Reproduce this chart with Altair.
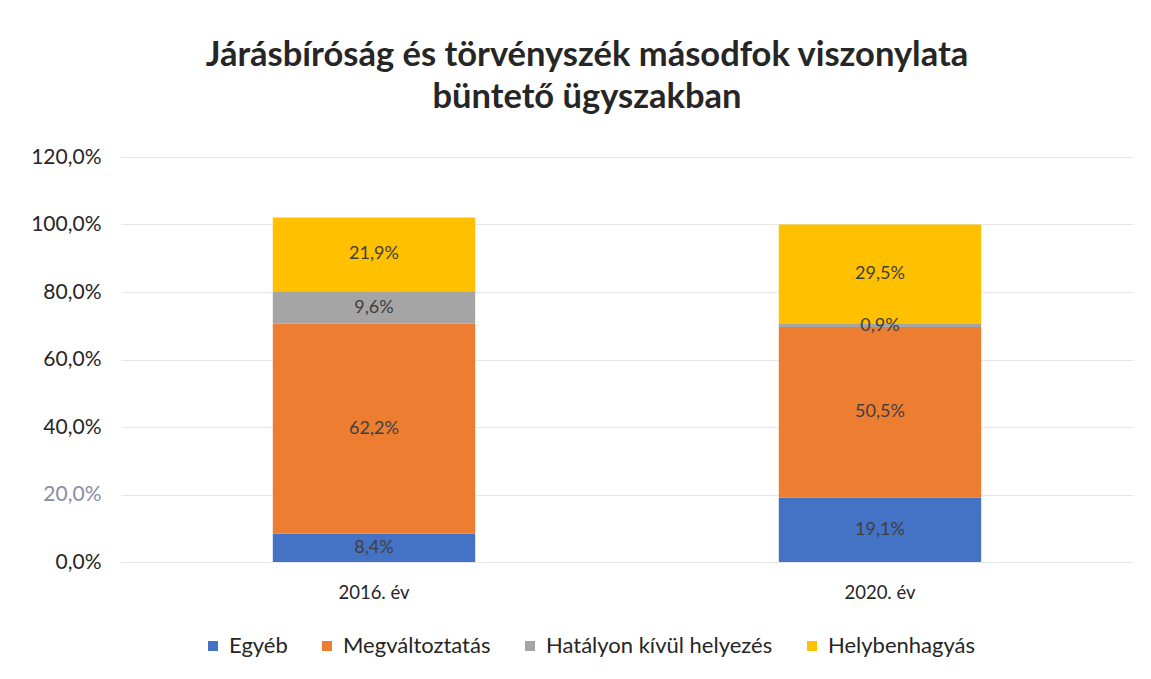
import altair as alt
import pandas as pd

years = ["2016. év", "2016. év", "2016. év", "2016. év",
         "2020. év", "2020. év", "2020. év", "2020. év"]
series = ["Egyéb", "Megváltoztatás", "Hatályon kívül helyezés", "Helybenhagyás"] * 2
values = [8.4, 62.2, 9.6, 21.9,
          19.1, 50.5, 0.9, 29.5]
order = [1, 2, 3, 4] * 2

series_names = ["Egyéb", "Megváltoztatás", "Hatályon kívül helyezés", "Helybenhagyás"]
series_colors = ["#4472C4", "#ED7D31", "#A5A5A5", "#FFC000"]

df = pd.DataFrame({"year": years, "series": series, "value": values, "ord": order})

FONT = "Lato"

base = alt.Chart(df).transform_stack(
    stack="value", groupby=["year"], as_=["y0", "y1"],
    sort=[alt.SortField("ord", order="ascending")]
).transform_calculate(
    mid="(datum.y0 + datum.y1) / 2",
    lbl="replace(format(datum.value, '.1f'), '.', ',') + '%'"
)

x_enc = alt.X("year:N", title=None,
              scale=alt.Scale(paddingInner=0.6, paddingOuter=0.3),
              axis=alt.Axis(labelAngle=0, labelFontSize=18.5, labelColor="#262626",
                            labelFont=FONT, ticks=False, domain=False, grid=False,
                            labelPadding=21))

bars = base.mark_bar().encode(
    x=x_enc,
    y=alt.Y("y0:Q", title=None,
            scale=alt.Scale(domain=[0, 120]),
            axis=alt.Axis(values=[0, 20, 40, 60, 80, 100, 120],
                          labelExpr="replace(format(datum.value, '.1f'), '.', ',') + '%'",
                          labelFontSize=21, labelFont=FONT,
                          labelColor=alt.expr("datum.value == 20 ? '#8c8ca4' : '#262626'"),
                          ticks=False, domain=False, labelPadding=20,
                          gridColor="#e6e6e6", gridWidth=1.2)),
    y2="y1:Q",
    color=alt.Color("series:N",
                    scale=alt.Scale(domain=series_names, range=series_colors),
                    legend=alt.Legend(title=None, orient="none", direction="horizontal",
                                      legendX=81, legendY=478,
                                      symbolType="square", symbolSize=100,
                                      symbolStrokeWidth=0, labelOffset=5,
                                      labelFontSize=22, labelFont=FONT,
                                      labelColor="#262626", columnPadding=28,
                                      labelLimit=400)),
    order=alt.Order("ord:Q")
)

labels = base.mark_text(fontSize=18, font=FONT, color="#404040").encode(
    x=alt.X("year:N"),
    y=alt.Y("mid:Q"),
    text="lbl:N"
)

chart = alt.layer(bars, labels).properties(
    width=1012, height=405,
    view=alt.ViewBackground(strokeOpacity=0, strokeWidth=0),
    title=alt.TitleParams(
        text=["Járásbíróság és törvényszék másodfok viszonylata", "büntető ügyszakban"],
        fontSize=34.5, font=FONT, fontWeight="bold", color="#262626",
        anchor="middle", frame="group", lineHeight=42, offset=31, dx=-40
    ),
    padding={"left": 30, "top": 37, "right": 10, "bottom": 5}
).configure_view(
    strokeOpacity=0, strokeWidth=0
).configure_axisX(grid=False).configure(background="white")

chart.save("out.html", embed_options={"renderer": "svg", "actions": False})
